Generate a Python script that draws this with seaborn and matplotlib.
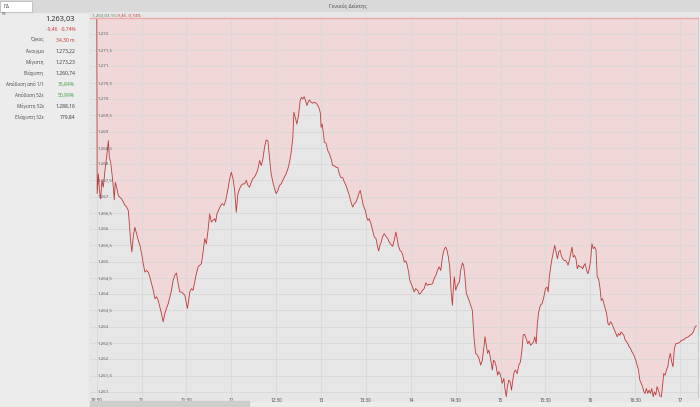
import matplotlib
matplotlib.use('Agg')
import matplotlib.pyplot as plt
import seaborn as sns
from matplotlib.patches import Rectangle

# --- data (minutes after 10:30, index level) ---
minutes = [
    0.0, 0.3, 1.1, 1.8, 2.6, 3.5, 4.4, 5.5, 6.6, 7.8, 8.4, 9.3, 10.2, 11.1, 11.7, 12.4, 13.3,
    14.4, 15.5, 16.6, 17.8, 18.9, 20.0, 21.1, 21.8, 22.6, 23.5, 24.4, 25.5, 26.6, 27.8, 28.9,
    30.0, 31.1, 32.2, 33.3, 34.4, 35.5, 36.6, 37.8, 38.9, 40.0, 41.1, 42.2, 43.3, 44.4, 45.5,
    46.6, 47.8, 48.9, 50.0, 51.1, 52.2, 53.3, 54.4, 55.5, 56.6, 57.8, 58.9, 60.0, 60.6, 61.5,
    62.2, 63.3, 64.4, 65.5, 66.6, 67.8, 68.9, 70.0, 71.1, 72.2, 73.3, 74.4, 75.5, 76.6, 77.8,
    78.9, 79.5, 80.4, 81.8, 82.9, 84.0, 85.1, 86.2, 87.1, 88.0, 88.9, 90.0, 91.1, 92.2, 93.3,
    94.4, 95.5, 96.6, 97.7, 98.9, 100.0, 101.1, 102.2, 103.3, 104.4, 105.5, 106.6, 107.8,
    108.9, 110.0, 111.1, 112.2, 113.3, 114.4, 115.5, 116.6, 117.8, 118.9, 120.0, 121.1, 122.2,
    123.3, 124.4, 125.5, 126.6, 127.8, 128.9, 130.0, 131.1,
    131.8, 132.7, 133.8, 134.9, 136.0, 136.9, 137.8, 138.7, 139.6, 140.5, 141.3, 142.2, 143.3,
    144.5, 145.6, 146.7, 147.8, 148.9, 149.6, 150.0, 150.7, 151.6, 152.2, 153.3, 154.5, 155.6,
    156.7, 157.8, 158.9, 160.0, 161.1, 162.2, 163.3, 164.5, 165.6, 166.7, 167.8, 168.9, 170.0,
    171.1, 172.2, 173.3, 174.5, 175.6, 176.2, 177.1, 178.2, 179.6, 180.5, 181.3, 182.2, 183.3,
    184.5, 185.6, 186.7, 187.8, 188.5, 189.3, 190.2, 191.1, 192.2, 193.3, 194.5, 195.6, 196.7,
    197.8, 198.9, 200.0, 200.7, 201.6, 202.7, 203.8, 204.7, 205.6, 206.7, 207.6, 208.5, 209.3,
    210.2, 211.1, 212.2, 213.3, 214.5, 215.6, 216.7, 217.8, 218.9, 220.0, 221.1, 222.2, 223.3,
    224.5, 225.6, 226.7, 227.8, 228.9, 230.0, 230.7, 231.6, 232.5, 233.3, 234.2, 235.1, 236.0,
    236.9, 237.8, 238.5, 239.1, 240.0, 240.7, 241.6, 242.5, 243.3, 244.5, 245.3, 246.2, 247.1,
    248.0, 248.9, 250.0, 251.1, 252.2, 253.3, 254.5, 255.6, 256.7, 257.8, 258.9, 259.6, 260.5,
    261.3, 262.2, 263.3, 264.5, 265.3, 266.2, 267.1, 268.0,
    268.9, 270.0, 271.1, 272.2, 272.9, 273.8, 274.6, 275.5, 276.4, 277.3, 278.2, 279.1, 280.0,
    281.1, 282.2, 283.3, 284.4, 285.1, 286.0, 287.1, 288.2, 289.1, 290.0, 291.1, 292.0, 292.9,
    293.8, 294.6, 295.5, 296.6, 297.8, 298.9, 300.0, 301.1, 301.8, 302.6, 303.5, 304.4, 305.3,
    306.2, 307.1, 308.0, 308.9, 309.8, 310.6, 311.5, 312.4, 313.3, 314.2, 315.1, 316.0, 316.9,
    317.8, 318.6, 319.5, 320.4, 321.3, 322.2, 323.1, 324.0, 324.9, 325.8, 326.6, 327.5, 328.4,
    329.3, 330.2, 331.1, 332.0, 332.9, 333.8, 334.6, 335.5, 336.4, 337.3, 338.2, 339.1, 340.0,
    340.9, 341.8, 342.6, 343.5, 344.4, 345.3, 346.2, 347.1, 348.0, 348.9, 349.8, 350.6, 351.5,
    352.4, 353.3, 354.2, 355.1, 356.0, 356.9, 357.8, 358.6, 359.5, 360.4, 361.3, 362.2, 363.1,
    364.0, 364.9, 365.8, 366.6, 367.5, 368.4, 369.3, 370.2, 371.1, 372.0, 372.9, 373.8, 374.6,
    375.5, 376.4, 377.3, 378.2, 379.1, 380.0, 380.9, 381.8, 382.6, 383.5, 384.4, 385.3, 386.2,
    387.1, 388.0, 388.9, 390.0, 391.1, 392.2, 393.3, 394.4, 395.5, 396.7, 397.8, 398.9, 400.0,
    400.9,
]
price = [
    1273.22, 1267.09, 1267.70, 1267.19, 1266.93, 1267.49, 1267.29, 1267.80, 1268.21, 1268.72,
    1268.21, 1268.06, 1267.70, 1267.29, 1266.90, 1267.44, 1267.29, 1267.03, 1266.98, 1266.93,
    1266.83, 1266.73, 1266.68, 1266.57, 1266.17, 1265.65, 1265.30, 1265.76, 1266.06, 1265.86,
    1265.65, 1265.50, 1265.25, 1264.94, 1264.68, 1264.73, 1264.68, 1264.53, 1264.33, 1264.12,
    1263.86, 1263.92, 1263.81, 1263.61, 1263.40, 1263.15, 1263.40, 1263.56, 1263.71, 1263.92,
    1264.12, 1264.43, 1264.58, 1264.65, 1264.33, 1264.07, 1264.07, 1264.02, 1263.97, 1263.71,
    1263.56, 1263.81, 1264.07, 1264.17, 1264.12, 1264.38, 1264.63, 1264.84, 1264.89, 1264.94,
    1265.30, 1265.71, 1265.55, 1265.96, 1266.47, 1266.22, 1266.27, 1266.32, 1266.22, 1266.47,
    1266.62, 1266.73, 1266.78, 1266.73, 1266.88, 1267.09, 1267.29, 1267.55, 1267.75, 1267.55,
    1267.19, 1266.52, 1267.09, 1267.24, 1267.34, 1267.39, 1267.39, 1267.50, 1267.34, 1267.29,
    1267.44, 1267.55, 1267.60, 1267.70, 1267.85, 1268.11, 1267.95, 1268.16, 1268.52, 1268.74,
    1268.72, 1268.21, 1267.70, 1267.44, 1267.24, 1267.09, 1267.19, 1267.34, 1267.39, 1267.50,
    1267.60, 1267.70, 1267.85, 1268.06, 1268.36, 1268.82,
    1269.59, 1269.44, 1269.23, 1269.49, 1269.95, 1270.05, 1270.00, 1270.07, 1269.95, 1269.80,
    1269.90, 1269.97, 1269.90, 1269.87, 1269.90, 1269.87, 1269.80, 1269.69, 1269.54, 1269.13,
    1269.23, 1268.93, 1268.67, 1268.64, 1268.41, 1268.31, 1268.16, 1267.95, 1267.95, 1267.90,
    1267.90, 1267.70, 1267.58, 1267.58, 1267.44, 1267.34, 1267.19, 1267.03, 1266.83, 1266.68,
    1266.78, 1266.83, 1266.98, 1267.14, 1267.19, 1266.98, 1266.73, 1266.57, 1266.37, 1266.27,
    1266.32, 1266.17, 1265.96, 1265.76, 1265.71, 1265.45, 1265.33, 1265.50, 1265.60, 1265.76,
    1265.86, 1265.78, 1265.71, 1265.60, 1265.53, 1265.47, 1265.65, 1265.91, 1265.76, 1265.50,
    1265.35, 1265.30, 1265.19, 1264.99, 1265.02, 1264.89, 1264.68, 1264.43, 1264.33, 1264.22,
    1264.07, 1264.17, 1264.12, 1264.00, 1264.04, 1264.12, 1264.17, 1264.35, 1264.27, 1264.30,
    1264.30, 1264.32, 1264.48, 1264.58, 1264.73, 1264.84, 1264.73, 1264.99, 1265.25, 1265.40,
    1265.45, 1265.35, 1265.14, 1264.84, 1264.12, 1263.66, 1264.22, 1264.53, 1264.12, 1264.22,
    1264.32, 1264.38, 1264.73, 1264.96, 1264.89, 1264.53, 1264.02, 1263.92, 1263.81, 1263.66,
    1263.51, 1262.69, 1262.18, 1262.13, 1262.02, 1261.82, 1261.97, 1262.38, 1262.69, 1262.43,
    1262.18, 1262.28, 1262.02, 1261.67, 1261.97, 1261.92, 1261.77, 1261.51,
    1261.62, 1261.51, 1261.26, 1261.41, 1261.10, 1260.85, 1261.16, 1261.36, 1261.31, 1261.05,
    1261.36, 1261.61, 1261.67, 1261.56, 1261.82, 1261.92, 1262.33, 1262.74, 1262.77, 1262.64,
    1262.48, 1262.56, 1262.43, 1262.48, 1262.53, 1262.69, 1262.48, 1263.10, 1263.46, 1263.66,
    1263.71, 1263.91, 1264.17, 1264.22, 1264.07, 1264.53, 1264.84, 1265.09, 1265.30, 1265.50,
    1265.30, 1265.09, 1265.30, 1265.35, 1265.19, 1265.09, 1265.04, 1265.04, 1264.99, 1264.89,
    1265.04, 1265.24, 1265.45, 1265.14, 1265.19, 1265.09, 1264.78, 1264.89, 1264.84, 1264.84,
    1264.78, 1264.89, 1264.94, 1264.73, 1264.63, 1264.78, 1265.04, 1265.55, 1265.40, 1265.45,
    1265.35, 1264.53, 1264.48, 1264.22, 1263.81, 1263.86, 1263.71, 1263.56, 1263.40, 1263.10,
    1263.05, 1263.15, 1263.10, 1262.99, 1262.89, 1262.79, 1262.69, 1262.79, 1262.74, 1262.84,
    1262.79, 1262.74, 1262.59, 1262.54, 1262.48, 1262.38, 1262.33, 1262.23, 1262.18, 1262.08,
    1261.97, 1261.82, 1261.67, 1261.36, 1261.26, 1261.16, 1261.00, 1260.95, 1261.10, 1260.95,
    1261.05, 1260.95, 1261.10, 1260.85, 1261.00, 1260.90, 1261.16, 1261.05, 1260.90, 1260.74,
    1261.16, 1261.56, 1261.51, 1261.67, 1261.77, 1262.02, 1262.18, 1261.92, 1261.77, 1262.33,
    1262.48, 1262.48, 1262.50, 1262.53, 1262.59, 1262.59, 1262.64, 1262.67, 1262.69, 1262.74,
    1262.77, 1262.84, 1262.99, 1263.03,
]
prev_close = 1272.49

x_ticks = [0, 30, 60, 90, 120, 150, 180, 210, 240, 270, 300, 330, 360, 390]
x_labels = ['10:30', '11', '11:30', '12', '12:30', '13', '13:30', '14', '14:30',
            '15', '15:30', '16', '16:30', '17']
y_ticks = [1261, 1261.5, 1262, 1262.5, 1263, 1263.5, 1264, 1264.5, 1265, 1265.5, 1266,
           1266.5, 1267, 1267.5, 1268, 1268.5, 1269, 1269.5, 1270, 1270.5, 1271, 1271.5, 1272]

stat_names = ['Όγκος', 'Άνοιγμα', 'Μέγιστη', 'Ελάχιστη', 'Απόδοση από 1/1',
              'Απόδοση 52ε', 'Μέγιστη 52ε', 'Ελάχιστη 52ε']
stat_values = ['34,30 m', '1.273,22', '1.273,23', '1.260,74', '35,84%',
               '50,99%', '1.288,16', '779,84']
stat_colors = ['#d03030', '#333333', '#333333', '#333333', '#3a9a3a',
               '#3a9a3a', '#333333', '#333333']


def gr_fmt(v):
    # greek style: 1.271,5
    s = f"{int(v):,}".replace(',', '.')
    if v % 1:
        s += ',5'
    return s


sns.set_theme(style='white')
plt.rcParams['font.family'] = ['Open Sans', 'DejaVu Sans']

W, H = 700, 407
fig = plt.figure(figsize=(7, 4.07), dpi=100, facecolor='#ececec')

# top bar + search box
fig.patches.append(Rectangle((0, 1 - 12 / H), 1, 12 / H, transform=fig.transFigure,
                             color='#d9d9d9', zorder=-2))
fig.patches.append(Rectangle((0, 1 - 12 / H), 32 / W, 11.5 / H, transform=fig.transFigure,
                             facecolor='white', edgecolor='#b0b0b0', lw=0.5, zorder=-1))
fig.text(3 / W, 1 - 6 / H, 'ΓΔ', fontsize=3.8, va='center', color='#333333')
fig.text(0.497, 1 - 6 / H, 'Γενικός Δείκτης', fontsize=3.8, va='center', ha='center',
         color='#444444')
fig.text(2 / W, 1 - 14 / H, 'Γδ', fontsize=3, va='center', color='#555555')

# chart panel background
fig.patches.append(Rectangle((89 / W, 6 / H), 611 / W, (H - 18) / H, transform=fig.transFigure,
                             color='#e6e6e6', zorder=-2))

# left info panel
fig.text(75 / W, 1 - 19 / H, '1.263,03', fontsize=5.4, ha='right', va='center', color='#222222')
fig.text(76 / W, 1 - 29 / H, '-9,46  -0,74%', fontsize=3.6, ha='right', va='center', color='#d03030')
for i, (n, v, c) in enumerate(zip(stat_names, stat_values, stat_colors)):
    yy = 1 - (40 + 11 * i) / H
    fig.text(44 / W, yy, n, fontsize=3.3, ha='right', va='center', color='#444444')
    fig.text(75 / W, yy, v, fontsize=3.6, ha='right', va='center', color=c)

# chart header
fig.text(92 / W, 1 - 15 / H, '1.263,03 15:', fontsize=3.2, va='center', color='#557a55')
fig.text(116 / W, 1 - 15 / H, '-9,46 -0,74%', fontsize=3.2, va='center', color='#d03030')

ax = fig.add_axes([90 / W, 10 / H, 608 / W, 379 / H])
ax.set_facecolor('#e6e6e6')
ax.fill_between(minutes, price, prev_close, color='#f0d8d8', zorder=1, lw=0)
ax.grid(True, color='#d8d8d8', lw=0.6, zorder=2)
ax.set_axisbelow(False)
sns.lineplot(x=minutes, y=price, ax=ax, color='#bb3b3b', linewidth=0.6,
             estimator=None, sort=False, zorder=3)
ax.axhline(prev_close, color='#eaaaaa', lw=1.0, zorder=4, clip_on=False)

ax.set_xlim(-4.5, 402)
ax.set_ylim(1260.84, prev_close)
ax.set_xticks(x_ticks)
ax.set_xticklabels(x_labels, fontsize=3.3, color='#444444')
ax.set_yticks(y_ticks)
ax.set_yticklabels([])
ax.tick_params(length=0, pad=0.5)
for v in y_ticks:
    ax.text(0.012, v, gr_fmt(v), transform=ax.get_yaxis_transform(), fontsize=3.2,
            va='center', ha='left', color='#555555', zorder=5)
for s in ax.spines.values():
    s.set_visible(False)
ax.spines['right'].set_visible(True)
ax.spines['right'].set_color('#c8c8c8')
ax.spines['right'].set_linewidth(0.6)

# scroll strip at the bottom
for k in range(13):
    fig.patches.append(Rectangle(((90 + 12.3 * k) / W, 0), 11.5 / W, 6 / H,
                                 transform=fig.transFigure, color='#cdcdcd', zorder=1))

fig.savefig('out.png', dpi=100, facecolor=fig.get_facecolor())
